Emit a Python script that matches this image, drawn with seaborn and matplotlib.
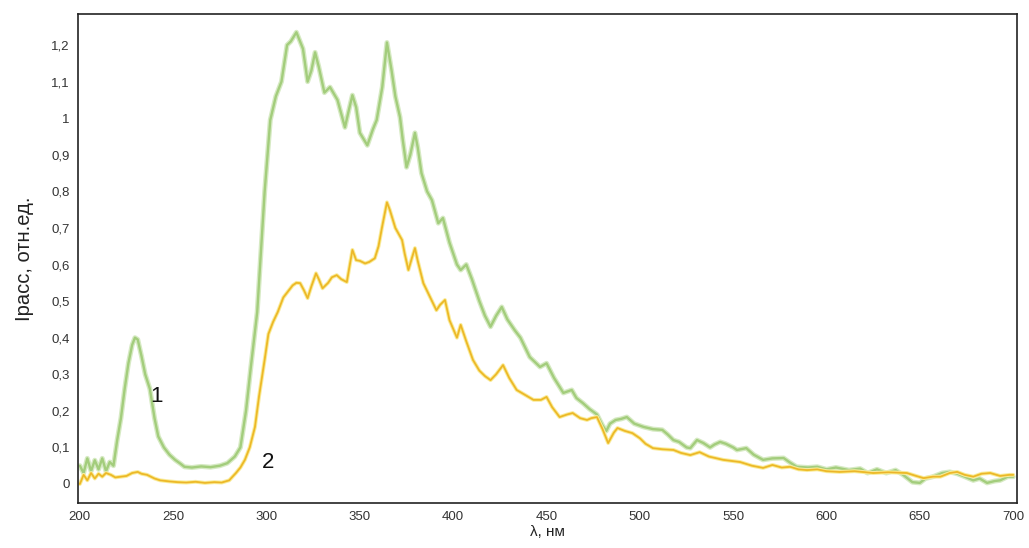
import numpy as np
import pandas as pd
import matplotlib
matplotlib.use("Agg")
import matplotlib.pyplot as plt
import seaborn as sns

# Curve 1 (green)
wl_1 = [200, 202, 204, 206, 208, 210, 212, 214, 216, 218, 220, 222, 224, 226, 228, 229.5, 231, 233, 235,
        237.5, 240, 242, 245, 248, 251, 254, 256, 260, 265, 270, 275, 279, 283, 286, 289, 291.6, 295, 299,
        302, 305, 308, 311, 313, 316, 319.5, 322, 324, 326, 328, 331, 334, 338, 342, 344, 346, 348, 350,
        354, 357, 359, 362, 364.5, 367, 369, 371.5, 373, 375, 377, 379.5, 381, 383, 386, 388.6, 392, 394.5,
        398, 402, 404, 407, 410, 414, 417, 420, 423, 426, 429, 433, 436, 441, 446.5, 450, 454, 459, 463.5,
        466, 469.5, 473, 477, 480, 482, 484, 487, 490, 493, 497, 502, 507, 512, 515, 518, 521, 525, 527,
        530.6, 534, 537.6, 540, 543, 546, 550, 552, 557, 561, 566, 571, 577, 580, 584, 590, 595, 600, 605,
        612, 618, 622, 627, 632, 637, 641, 646, 650, 653, 657, 662, 666, 670, 674, 678.6, 682, 686, 690,
        693, 697, 700]
val_1 = [0.05, 0.03, 0.07, 0.035, 0.065, 0.04, 0.07, 0.035, 0.06, 0.05, 0.12, 0.18, 0.26, 0.33, 0.38, 0.40,
         0.395, 0.35, 0.30, 0.26, 0.18, 0.13, 0.10, 0.08, 0.066, 0.055, 0.047, 0.045, 0.048, 0.046, 0.05,
         0.057, 0.075, 0.10, 0.20, 0.32, 0.47, 0.80, 0.995, 1.06, 1.10, 1.20, 1.21, 1.235, 1.19, 1.10, 1.13,
         1.18, 1.14, 1.07, 1.085, 1.05, 0.975, 1.02, 1.063, 1.03, 0.96, 0.926, 0.97, 0.995, 1.085, 1.207,
         1.13, 1.06, 1.003, 0.94, 0.866, 0.90, 0.96, 0.92, 0.85, 0.80, 0.776, 0.713, 0.727, 0.66, 0.60,
         0.585, 0.60, 0.56, 0.50, 0.46, 0.43, 0.46, 0.484, 0.45, 0.42, 0.40, 0.347, 0.32, 0.33, 0.29, 0.249,
         0.257, 0.235, 0.221, 0.205, 0.19, 0.16, 0.145, 0.165, 0.175, 0.178, 0.183, 0.165, 0.156, 0.15,
         0.148, 0.135, 0.12, 0.115, 0.10, 0.098, 0.12, 0.112, 0.10, 0.108, 0.115, 0.11, 0.10, 0.093, 0.098,
         0.08, 0.066, 0.07, 0.071, 0.06, 0.047, 0.045, 0.047, 0.04, 0.045, 0.038, 0.042, 0.03, 0.04, 0.03,
         0.038, 0.025, 0.005, 0.003, 0.015, 0.02, 0.03, 0.033, 0.028, 0.02, 0.01, 0.015, 0.003, 0.008, 0.01,
         0.02, 0.02]

# Curve 2 (orange / yellow)
wl_2 = [200, 202, 204, 206, 208, 210, 212, 214, 216.6, 219, 222, 225, 228, 231, 233, 236, 240, 243, 248,
        252.5, 257, 262, 267, 272, 276, 280, 283.6, 286, 288.4, 291, 293.8, 296, 299, 301, 303.5, 306, 309,
        312, 314, 316, 318, 320, 322, 324, 326.5, 328, 330, 333, 335, 337.6, 340, 343, 346, 348, 350, 352.8,
        355, 358, 360, 361.8, 364.5, 366, 369, 372.6, 374, 376, 378, 379.5, 381, 384, 387.6, 391, 393,
        395.6, 398, 402, 404, 407, 410.6, 414, 417, 420, 423, 426.7, 430, 434, 438, 443, 447, 450, 453,
        457, 461, 464, 468, 471.7, 474, 477, 480, 483, 486, 488, 492, 496, 500, 503, 507, 512, 518, 522,
        527, 532, 537, 544.6, 549, 553.7, 560, 566, 571, 576, 580.5, 585, 589.6, 595, 600, 607, 615, 625,
        633, 643, 648, 652, 657, 661, 666, 670, 674, 678.6, 683, 687.7, 693, 698, 700]
val_2 = [0.0, 0.025, 0.01, 0.03, 0.015, 0.028, 0.02, 0.03, 0.025, 0.018, 0.02, 0.022, 0.03, 0.033, 0.028,
         0.025, 0.015, 0.01, 0.007, 0.005, 0.004, 0.006, 0.003, 0.005, 0.004, 0.01, 0.03, 0.045, 0.066,
         0.10, 0.156, 0.24, 0.34, 0.41, 0.443, 0.47, 0.51, 0.53, 0.543, 0.55, 0.549, 0.53, 0.508, 0.54,
         0.576, 0.56, 0.535, 0.55, 0.565, 0.571, 0.56, 0.552, 0.64, 0.612, 0.61, 0.603, 0.607, 0.617, 0.65,
         0.70, 0.77, 0.75, 0.70, 0.667, 0.63, 0.585, 0.62, 0.645, 0.61, 0.549, 0.511, 0.475, 0.49, 0.503,
         0.448, 0.40, 0.435, 0.39, 0.339, 0.31, 0.295, 0.284, 0.30, 0.325, 0.29, 0.257, 0.245, 0.23, 0.23,
         0.238, 0.21, 0.183, 0.19, 0.194, 0.18, 0.175, 0.18, 0.183, 0.15, 0.112, 0.14, 0.153, 0.145, 0.139,
         0.125, 0.11, 0.098, 0.095, 0.093, 0.085, 0.079, 0.087, 0.075, 0.066, 0.063, 0.06, 0.05, 0.044,
         0.052, 0.045, 0.047, 0.04, 0.038, 0.04, 0.035, 0.033, 0.035, 0.03, 0.032, 0.03, 0.022, 0.016, 0.02,
         0.02, 0.03, 0.033, 0.025, 0.02, 0.028, 0.03, 0.022, 0.025, 0.025]

x_ticks = [200, 250, 300, 350, 400, 450, 500, 550, 600, 650, 700]
y_ticks = [0, 0.1, 0.2, 0.3, 0.4, 0.5, 0.6, 0.7, 0.8, 0.9, 1.0, 1.1, 1.2]
y_tick_labels = ["0", "0,1", "0,2", "0,3", "0,4", "0,5", "0,6", "0,7", "0,8", "0,9", "1", "1,1", "1,2"]
x_label = "λ, нм"
y_label = "Iрасс, отн.ед."
curve_labels = ["1", "2"]

sns.set_style("white")
plt.rcParams['font.family'] = ['Liberation Sans', 'DejaVu Sans']

df1 = pd.DataFrame({"wl": wl_1, "v": val_1})
df2 = pd.DataFrame({"wl": wl_2, "v": val_2})

fig = plt.figure(figsize=(10.29, 5.48), dpi=100)
ax = fig.add_axes([0.0758, 0.0821, 0.9125, 0.8924])

# green curve with soft glow
sns.lineplot(data=df1, x="wl", y="v", ax=ax, color="#d6eac3", linewidth=3.6)
sns.lineplot(data=df1, x="wl", y="v", ax=ax, color="#a3cd7c", linewidth=1.7)
# orange/yellow curve
sns.lineplot(data=df2, x="wl", y="v", ax=ax, color="#f9eba0", linewidth=2.8)
sns.lineplot(data=df2, x="wl", y="v", ax=ax, color="#f2c828", linewidth=1.4)
sns.lineplot(data=df2, x="wl", y="v", ax=ax, color="#e39a35", linewidth=0.6, alpha=0.55)

ax.set_xlim(199, 702)
ax.set_ylim(-0.052, 1.285)
ax.set_xticks(x_ticks)
ax.set_xticklabels([str(t) for t in x_ticks], fontsize=9.5, color="#333333")
ax.set_yticks(y_ticks)
ax.set_yticklabels(y_tick_labels, fontsize=9.5, color="#333333")
ax.tick_params(axis="both", direction="out", length=3, width=0.8, color="#333333", pad=3)
ax.set_xlabel(x_label, fontsize=11, labelpad=1, color="#222222")
ax.set_ylabel(y_label, fontsize=14.5, labelpad=12, color="#222222")

for s in ax.spines.values():
    s.set_color("#222222")
    s.set_linewidth(1.2)

ax.text(241, 0.238, curve_labels[0], fontsize=16, ha="center", va="center", color="#111111")
ax.text(300.7, 0.06, curve_labels[1], fontsize=16, ha="center", va="center", color="#111111")

fig.savefig("out.png", dpi=100)
